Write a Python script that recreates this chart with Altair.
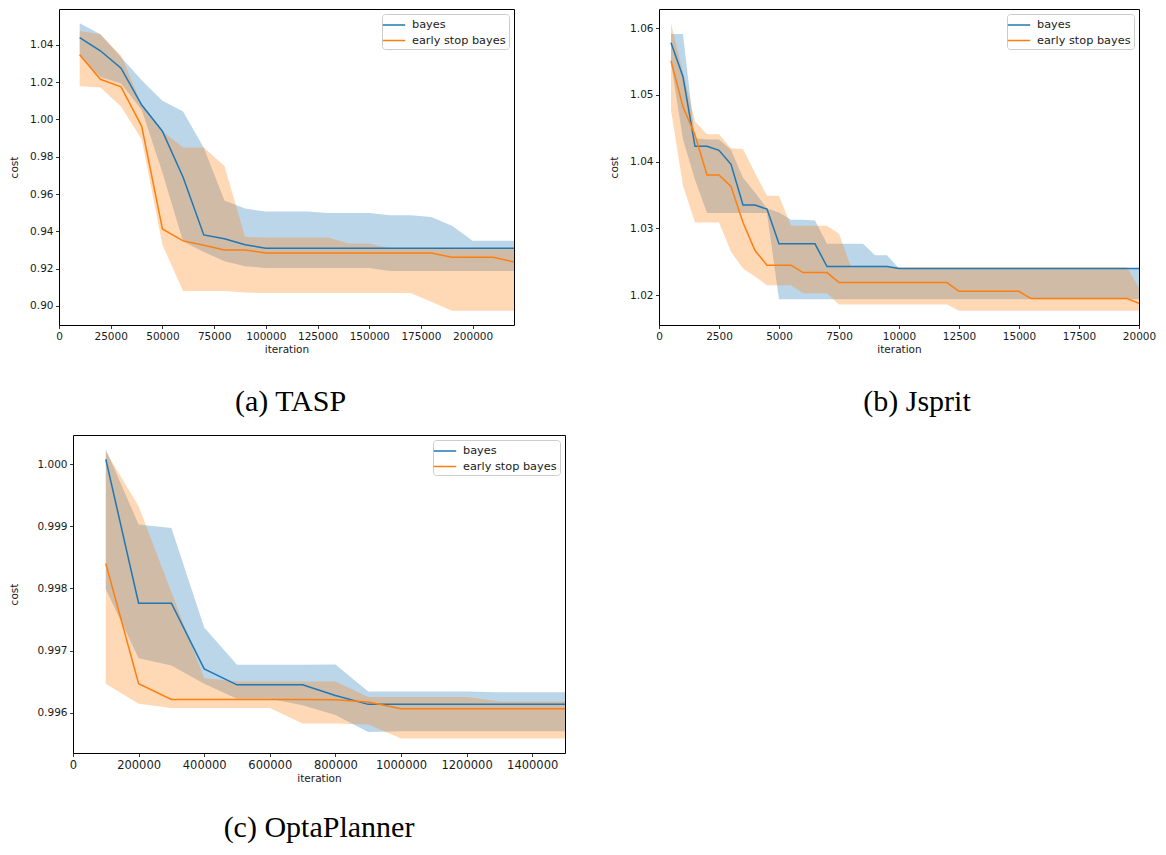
import altair as alt
import pandas as pd

SERIES = ["bayes", "early stop bayes"]
COLORS = ["#1f77b4", "#ff7f0e"]

# ---------------- (a) TASP ----------------
a_iter = [10000, 20000, 30000, 40000, 50000, 60000, 70000, 80000, 90000, 100000, 110000,
          120000, 130000, 140000, 150000, 160000, 170000, 180000, 190000, 200000, 210000, 220000]
a_bayes = [1.0439, 1.0368, 1.0275, 1.0077, 0.9937, 0.9690, 0.9381, 0.9360, 0.9328, 0.9310, 0.9310,
           0.9310, 0.9310, 0.9310, 0.9310, 0.9310, 0.9310, 0.9310, 0.9310, 0.9310, 0.9310, 0.9310]
a_bayes_lo = [1.0340, 1.0228, 1.0192, 1.0050, 0.9716, 0.9346, 0.9290, 0.9240, 0.9213, 0.9204, 0.9204,
              0.9204, 0.9204, 0.9204, 0.9204, 0.9187, 0.9187, 0.9187, 0.9187, 0.9187, 0.9187, 0.9187]
a_bayes_hi = [1.0515, 1.0457, 1.0333, 1.0210, 1.0100, 1.0042, 0.9848, 0.9566, 0.9522, 0.9506, 0.9506,
              0.9506, 0.9499, 0.9499, 0.9499, 0.9487, 0.9487, 0.9477, 0.9430, 0.9350, 0.9350, 0.9350]
a_early = [1.0347, 1.0215, 1.0175, 0.9963, 0.9413, 0.9349, 0.9325, 0.9300, 0.9300, 0.9284, 0.9284,
           0.9284, 0.9284, 0.9284, 0.9284, 0.9284, 0.9284, 0.9284, 0.9261, 0.9261, 0.9261, 0.9236]
a_early_lo = [1.0178, 1.0171, 1.0069, 0.9892, 0.9328, 0.9080, 0.9080, 0.9080, 0.9072, 0.9070, 0.9070,
              0.9070, 0.9070, 0.9070, 0.9070, 0.9070, 0.9070, 0.9023, 0.8975, 0.8975, 0.8975, 0.8975]
a_early_hi = [1.0474, 1.0457, 1.0342, 1.0080, 0.9937, 0.9850, 0.9850, 0.9751, 0.9370, 0.9367, 0.9367,
              0.9367, 0.9367, 0.9335, 0.9335, 0.9308, 0.9308, 0.9308, 0.9308, 0.9308, 0.9308, 0.9308]
a_xticks = [0, 25000, 50000, 75000, 100000, 125000, 150000, 175000, 200000]
a_yticks = [0.90, 0.92, 0.94, 0.96, 0.98, 1.00, 1.02, 1.04]

# ---------------- (b) Jsprit ----------------
b_iter = [500, 1000, 1500, 2000, 2500, 3000, 3500, 4000, 4500, 5000,
          5500, 6000, 6500, 7000, 7500, 8000, 8500, 9000, 9500, 10000,
          10500, 11000, 11500, 12000, 12500, 13000, 13500, 14000, 14500, 15000,
          15500, 16000, 16500, 17000, 17500, 18000, 18500, 19000, 19500, 20000]
b_bayes = [1.0578, 1.0527, 1.0423, 1.0423, 1.0417, 1.0396, 1.0335, 1.0335, 1.0329, 1.0277,
           1.0277, 1.0277, 1.0277, 1.0243, 1.0243, 1.0243, 1.0243, 1.0243, 1.0243, 1.0240,
           1.0240, 1.0240, 1.0240, 1.0240, 1.0240, 1.0240, 1.0240, 1.0240, 1.0240, 1.0240,
           1.0240, 1.0240, 1.0240, 1.0240, 1.0240, 1.0240, 1.0240, 1.0240, 1.0240, 1.0240]
b_bayes_lo = [1.0548, 1.0433, 1.0373, 1.0323, 1.0323, 1.0323, 1.0323, 1.0323, 1.0323, 1.0194,
              1.0194, 1.0194, 1.0194, 1.0194, 1.0194, 1.0194, 1.0194, 1.0194, 1.0194, 1.0194,
              1.0194, 1.0194, 1.0194, 1.0194, 1.0194, 1.0194, 1.0194, 1.0194, 1.0194, 1.0194,
              1.0194, 1.0194, 1.0194, 1.0194, 1.0194, 1.0194, 1.0194, 1.0194, 1.0194, 1.0194]
b_bayes_hi = [1.0591, 1.0591, 1.0435, 1.0433, 1.0433, 1.0418, 1.0376, 1.0354, 1.0330, 1.0324,
              1.0313, 1.0313, 1.0312, 1.0277, 1.0277, 1.0277, 1.0277, 1.0260, 1.0260, 1.0240,
              1.0240, 1.0240, 1.0240, 1.0240, 1.0240, 1.0240, 1.0240, 1.0240, 1.0240, 1.0240,
              1.0240, 1.0240, 1.0240, 1.0240, 1.0240, 1.0240, 1.0240, 1.0240, 1.0240, 1.0240]
b_early = [1.0551, 1.0482, 1.0440, 1.0380, 1.0380, 1.0363, 1.0309, 1.0267, 1.0245, 1.0245,
           1.0245, 1.0234, 1.0234, 1.0234, 1.0219, 1.0219, 1.0219, 1.0219, 1.0219, 1.0219,
           1.0219, 1.0219, 1.0219, 1.0219, 1.0206, 1.0206, 1.0206, 1.0206, 1.0206, 1.0206,
           1.0195, 1.0195, 1.0195, 1.0195, 1.0195, 1.0195, 1.0195, 1.0195, 1.0195, 1.0188]
b_early_lo = [1.0477, 1.0364, 1.0309, 1.0309, 1.0309, 1.0265, 1.0240, 1.0228, 1.0215, 1.0215,
              1.0215, 1.0203, 1.0203, 1.0203, 1.0186, 1.0186, 1.0186, 1.0186, 1.0186, 1.0186,
              1.0186, 1.0186, 1.0186, 1.0186, 1.0177, 1.0177, 1.0177, 1.0177, 1.0177, 1.0177,
              1.0177, 1.0177, 1.0177, 1.0177, 1.0177, 1.0177, 1.0177, 1.0177, 1.0177, 1.0177]
b_early_hi = [1.0607, 1.0533, 1.0460, 1.0441, 1.0441, 1.0420, 1.0419, 1.0383, 1.0349, 1.0349,
              1.0304, 1.0304, 1.0304, 1.0304, 1.0292, 1.0242, 1.0242, 1.0242, 1.0242, 1.0242,
              1.0242, 1.0242, 1.0242, 1.0242, 1.0242, 1.0242, 1.0242, 1.0242, 1.0242, 1.0242,
              1.0242, 1.0242, 1.0242, 1.0242, 1.0242, 1.0242, 1.0242, 1.0242, 1.0242, 1.0211]
b_xticks = [0, 2500, 5000, 7500, 10000, 12500, 15000, 17500, 20000]
b_yticks = [1.02, 1.03, 1.04, 1.05, 1.06]

# ---------------- (c) OptaPlanner ----------------
c_iter = [100000, 200000, 300000, 400000, 500000, 600000, 700000, 800000,
          900000, 1000000, 1100000, 1200000, 1300000, 1400000, 1500000]
c_bayes = [1.000080, 0.997763, 0.997763, 0.996705, 0.996448, 0.996448, 0.996448, 0.996277,
           0.996133, 0.996133, 0.996133, 0.996133, 0.996133, 0.996133, 0.996133]
c_bayes_lo = [0.997987, 0.996875, 0.996758, 0.996465, 0.996224, 0.996224, 0.996117, 0.995960,
              0.995689, 0.995700, 0.995700, 0.995700, 0.995700, 0.995700, 0.995700]
c_bayes_hi = [1.000240, 0.999030, 0.998974, 0.997372, 0.996769, 0.996769, 0.996769, 0.996774,
              0.996341, 0.996341, 0.996341, 0.996340, 0.996330, 0.996330, 0.996330]
c_early = [0.998400, 0.996465, 0.996213, 0.996213, 0.996213, 0.996213, 0.996213, 0.996208,
           0.996170, 0.996064, 0.996064, 0.996064, 0.996064, 0.996064, 0.996064]
c_early_lo = [0.996465, 0.996144, 0.996074, 0.996074, 0.996074, 0.996074, 0.995823, 0.995823,
              0.995807, 0.995583, 0.995583, 0.995583, 0.995583, 0.995583, 0.995583]
c_early_hi = [1.000204, 0.999322, 0.997939, 0.996555, 0.996501, 0.996501, 0.996501, 0.996502,
              0.996250, 0.996250, 0.996250, 0.996250, 0.996180, 0.996180, 0.996180]
c_xticks = [0, 200000, 400000, 600000, 800000, 1000000, 1200000, 1400000]
c_yticks = [0.996, 0.997, 0.998, 0.999, 1.000]

TXT = "#1a1a1a"
SANS = "DejaVu Sans"


def build_df(x, bm, blo, bhi, em, elo, ehi):
    rows = []
    for i in range(len(x)):
        rows.append({"iteration": x[i], "series": SERIES[0], "mean": bm[i], "lo": blo[i], "hi": bhi[i]})
    for i in range(len(x)):
        rows.append({"iteration": x[i], "series": SERIES[1], "mean": em[i], "lo": elo[i], "hi": ehi[i]})
    return pd.DataFrame(rows)


def panel(df, xdom, ydom, xticks, yticks, yfmt, width, height, caption, dx,
          ytitle_pad, cap_offset, xlab_size=10.5):
    xaxis = alt.Axis(values=xticks, format="d", title="iteration", grid=False, domain=False,
                     tickSize=3.5, tickWidth=0.8, tickColor="black", labelPadding=2.5,
                     labelFont=SANS, labelFontSize=xlab_size, labelColor=TXT,
                     titleFont=SANS, titleFontSize=10.5, titleColor=TXT,
                     titleFontWeight="normal", titlePadding=3, labelFlush=False)
    yaxis = alt.Axis(values=yticks, format=yfmt, title="cost", grid=False, domain=False,
                     tickSize=3.5, tickWidth=0.8, tickColor="black", labelPadding=2.5,
                     labelFont=SANS, labelFontSize=10.5, labelColor=TXT,
                     titleFont=SANS, titleFontSize=10.5, titleColor=TXT,
                     titleFontWeight="normal", titlePadding=ytitle_pad, labelFlush=False)
    xs = alt.Scale(domain=xdom, nice=False, zero=False)
    ys = alt.Scale(domain=ydom, nice=False, zero=False)
    base = alt.Chart(df)
    band = base.mark_area(opacity=0.3, clip=True).encode(
        x=alt.X("iteration:Q", scale=xs, axis=xaxis),
        y=alt.Y("lo:Q", scale=ys, axis=yaxis, stack=None),
        y2="hi:Q",
        fill=alt.Fill("series:N", scale=alt.Scale(domain=SERIES, range=COLORS), legend=None),
    )
    line = base.mark_line(strokeWidth=1.5, clip=True).encode(
        x=alt.X("iteration:Q", scale=xs),
        y=alt.Y("mean:Q", scale=ys, stack=None),
        stroke=alt.Stroke("series:N", scale=alt.Scale(domain=SERIES, range=COLORS),
                          legend=alt.Legend(title=None, orient="top-right", offset=5, padding=3,
                                            strokeColor="#cccccc", fillColor="white",
                                            cornerRadius=3, symbolType="M-1.6,0L1.6,0",
                                            symbolSize=196, symbolStrokeWidth=1.5,
                                            symbolOffset=1,
                                            labelFont=SANS, labelFontSize=11.3,
                                            labelColor=TXT, labelOffset=10, rowPadding=1.5)),
        order=alt.Order("iteration:Q"),
    )
    return alt.layer(band, line).properties(
        width=width, height=height,
        view=alt.ViewBackground(stroke="black", strokeWidth=1),
        title=alt.TitleParams(caption, orient="bottom", anchor="middle", frame="group",
                              offset=cap_offset, dx=dx, font="Liberation Serif", fontSize=30,
                              fontWeight="normal", color="black"),
    ).resolve_scale(stroke="independent", fill="independent")


def spacer():
    return alt.Chart(pd.DataFrame({"v": [0]})).mark_point(
        opacity=0, size=0, strokeWidth=0, filled=True
    ).encode(
        x=alt.X("v:Q", axis=None), y=alt.Y("v:Q", axis=None)
    ).properties(width=1, height=1,
                 view=alt.ViewBackground(stroke="white", strokeOpacity=0, fill="white", fillOpacity=0))


df_a = build_df(a_iter, a_bayes, a_bayes_lo, a_bayes_hi, a_early, a_early_lo, a_early_hi)
df_b = build_df(b_iter, b_bayes, b_bayes_lo, b_bayes_hi, b_early, b_early_lo, b_early_hi)
df_c = build_df(c_iter, c_bayes, c_bayes_lo, c_bayes_hi, c_early, c_early_lo, c_early_hi)

pa = panel(df_a, [0, 220000], [0.8898, 1.0592], a_xticks, a_yticks, ".2f", 455, 316,
           "(a) TASP", 4, 10, 32)
pb = panel(df_b, [0, 20000], [1.01555, 1.06285], b_xticks, b_yticks, ".2f", 480, 316,
           "(b) Jsprit", 18, 10, 32)
pc = panel(df_c, [0, 1500000], [0.99535, 1.00047], c_xticks, c_yticks, ".3f", 492, 318,
           "(c) OptaPlanner", 0, 17, 29, 11.5)

RES = dict(x="independent", y="independent", stroke="independent", fill="independent")
LEG = dict(stroke="independent", fill="independent")

ab = alt.hconcat(pa, pb, spacing=94).resolve_scale(**RES).resolve_legend(**LEG)
top = alt.hconcat(spacer(), ab, spacing=0).resolve_scale(**RES).resolve_legend(**LEG)
bottom = alt.hconcat(spacer(), pc, spacing=0).resolve_scale(**RES).resolve_legend(**LEG)

chart = alt.vconcat(top, bottom, spacing=16).resolve_scale(**RES).resolve_legend(**LEG).properties(
    padding={"left": 0, "top": 0, "right": 0, "bottom": 0},
    background="white",
).configure_view(stroke="black", strokeWidth=1)

chart.save("out.html", embed_options={"renderer": "svg", "actions": False})
